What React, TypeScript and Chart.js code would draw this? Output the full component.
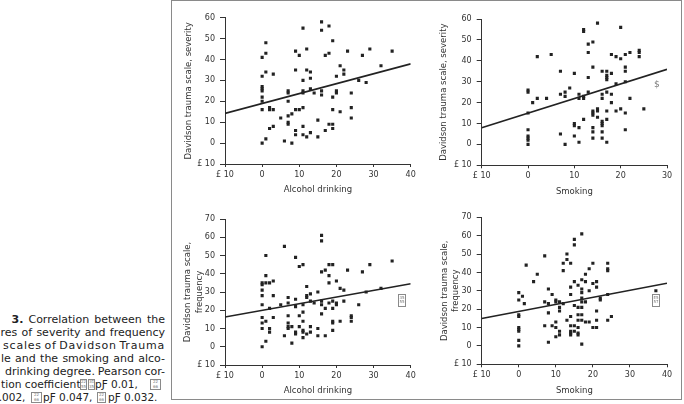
import React, { useEffect, useRef } from 'react';
import { Chart, registerables } from 'chart.js';

Chart.register(...registerables);

// Alcohol drinking vs. Davidson trauma scale, severity
const alcoholSeverityX = [0, 1, 0, 1, 1, 1, 0, 0, 0, 0, 0, 0, 0, 2, 2, 3, 3, 2, 3, 5, 6, 8, 7, 7, 7, 7, 7, 7, 8, 9, 9, 9, 9, 9, 10, 10, 11, 11, 11, 11, 11, 11, 11, 12, 12, 12, 13, 13, 13, 13, 14, 15, 15, 16, 16, 16, 16, 17, 17, 18, 18, 18, 19, 19, 19, 19, 19, 20, 20, 20, 21, 21, 22, 22, 23, 24, 24, 24, 26, 27, 28, 29, 32, 35];
const alcoholSeverityY = [0, 2, 41, 43, 48, 34, 32, 27, 26, 25, 22, 20, 16, 17, 16, 33, 16, 7, 8, 12, 1, 0, 25, 24, 20, 13, 10, 9, 14, 6, 4, 35, 44, 16, 16, 42, 55, 30, 25, 24, 17, 8, 4, 45, 35, 3, 34, 31, 26, 5, 24, 11, 3, 58, 54, 25, 23, 42, 6, 56, 43, 9, 49, 22, 16, 9, 7, 32, 25, 24, 37, 15, 35, 33, 44, 24, 17, 12, 30, 42, 29, 45, 37, 44];
const alcoholSeverityFitX = [-10, 40];
const alcoholSeverityFitY = [14.2, 37.9];

// Smoking vs. Davidson trauma scale, severity
const smokingSeverityX = [0, 0, 0, 0, 0, 0, 0, 0, 1, 2, 2, 4, 5, 7, 7, 7, 8, 8, 8, 9, 10, 10, 10, 10, 11, 11, 11, 11, 12, 12, 12, 12, 12, 13, 13, 13, 13, 14, 14, 14, 14, 14, 14, 14, 14, 15, 15, 15, 15, 16, 16, 16, 16, 16, 16, 16, 16, 17, 17, 17, 17, 17, 17, 17, 17, 18, 18, 18, 18, 19, 19, 19, 20, 20, 20, 21, 21, 21, 21, 21, 21, 22, 22, 24, 24, 24, 25];
const smokingSeverityY = [0, 2, 3, 4, 7, 15, 26, 25, 20, 22, 42, 22, 43, 5, 35, 24, 0, 23, 25, 27, 34, 10, 9, 4, 1, 8, 24, 22, 23, 22, 55, 54, 12, 44, 48, 32, 25, 49, 37, 16, 15, 14, 8, 6, 3, 58, 17, 16, 13, 35, 24, 22, 11, 10, 9, 6, 3, 35, 33, 32, 31, 25, 16, 12, 1, 43, 34, 24, 20, 42, 29, 16, 56, 41, 17, 43, 37, 35, 30, 15, 7, 44, 22, 45, 44, 42, 17];
const smokingSeverityFitX = [-10, 30];
const smokingSeverityFitY = [8.0, 35.9];

// Alcohol drinking vs. Davidson trauma scale, frequency
const alcoholFrequencyX = [0, 0, 0, 0, 0, 0, 0, 0, 0, 1, 1, 1, 1, 1, 2, 2, 2, 2, 3, 3, 3, 5, 6, 6, 7, 7, 7, 7, 7, 7, 8, 8, 9, 9, 9, 9, 9, 10, 10, 10, 11, 11, 11, 11, 11, 11, 11, 12, 12, 12, 12, 13, 13, 13, 13, 14, 15, 15, 15, 16, 16, 16, 16, 16, 16, 17, 17, 17, 18, 18, 18, 18, 19, 19, 19, 19, 19, 19, 20, 20, 20, 21, 21, 22, 22, 23, 24, 24, 24, 26, 27, 28, 29, 32, 35];
const alcoholFrequencyY = [0, 10, 13, 16, 23, 28, 31, 34, 35, 3, 14, 35, 39, 50, 35, 21, 10, 8, 36, 28, 16, 23, 55, 6, 27, 17, 13, 11, 10, 24, 11, 2, 49, 26, 22, 8, 7, 44, 17, 11, 45, 19, 23, 9, 8, 5, 14, 33, 28, 27, 7, 29, 25, 11, 8, 24, 30, 10, 6, 61, 58, 41, 25, 23, 18, 42, 21, 6, 45, 39, 35, 24, 45, 25, 21, 14, 13, 9, 36, 24, 23, 32, 14, 31, 25, 42, 17, 16, 14, 23, 41, 30, 45, 32, 47];
const alcoholFrequencyFitX = [-10, 40];
const alcoholFrequencyFitY = [16.3, 34.5];

// Smoking vs. Davidson trauma scale, frequency
const smokingFrequencyX = [0, 0, 0, 0, 0, 0, 0, 0, 0, 1, 1.5, 2, 4, 5, 7, 7, 7, 8, 8, 8, 8, 9, 9, 10, 10, 10, 10, 10, 11, 11, 11, 11, 11, 12, 12, 12, 13, 13, 13, 14, 14, 14, 14, 14, 14, 14, 14, 15, 15, 15, 15, 15, 15, 16, 16, 16, 16, 16, 16, 16, 17, 17, 17, 17, 17, 17, 17, 17, 17, 17, 18, 18, 18, 18, 19, 19, 19, 20, 20, 20, 21, 21, 21, 21, 21, 22, 22, 24, 24, 24, 24, 24, 25, 37];
const smokingFrequencyY = [0, 3, 8, 9, 10, 16, 17, 25, 29, 27, 23, 44, 35, 39, 49, 24, 11, 31, 23, 18, 2, 28, 11, 25, 24, 13, 10, 5, 24, 21, 19, 8, 6, 23, 41, 45, 50, 47, 14, 45, 32, 28, 16, 11, 8, 7, 6, 58, 55, 35, 22, 11, 8, 33, 21, 17, 14, 10, 7, 6, 61, 36, 31, 29, 26, 24, 21, 17, 14, 1, 39, 35, 24, 13, 42, 30, 13, 45, 34, 10, 35, 32, 19, 14, 10, 26, 25, 45, 42, 41, 14, 28, 16, 30];
const smokingFrequencyFitX = [-10, 40];
const smokingFrequencyFitY = [14.9, 34.1];

// Axis ticks
const severityTicks = [-10, 0, 10, 20, 30, 40, 50, 60];
const severityTickLabels = ['£ 10', '0', '10', '20', '30', '40', '50', '60'];
const frequencyTicks = [-10, 0, 10, 20, 30, 40, 50, 60, 70];
const frequencyTickLabels = ['£ 10', '0', '10', '20', '30', '40', '50', '60', '70'];
const alcoholTicks = [-10, 0, 10, 20, 30, 40];
const alcoholTickLabels = ['£ 10', '0', '10', '20', '30', '40'];
const smokingShortTicks = [-10, 0, 10, 20, 30];
const smokingShortTickLabels = ['£ 10', '0', '10', '20', '30'];
const smokingLongTicks = [-10, 0, 10, 20, 30, 40];
const smokingLongTickLabels = ['£ 10', '0', '10', '20', '30', '40'];

const FONT = '"DejaVu Sans", Verdana, sans-serif';
const INK = '#222';
const TEXT = '#333';

type Panel = {
  left: number; top: number; width: number; height: number;
  padTop: number; padRight: number; yWidth: number; xHeight: number;
  xs: number[]; ys: number[]; fitX: number[]; fitY: number[];
  xTicks: number[]; xLabels: string[]; yTicks: number[]; yLabels: string[];
  xTitle: string; yTitle: string[]; yTitleGaps: number[];
};

const panels: Panel[] = [
  {
    left: 173, top: 1, width: 247, height: 199,
    padTop: 16.7, padRight: 9.3, yWidth: 52, xHeight: 36,
    xs: alcoholSeverityX, ys: alcoholSeverityY, fitX: alcoholSeverityFitX, fitY: alcoholSeverityFitY,
    xTicks: alcoholTicks, xLabels: alcoholTickLabels, yTicks: severityTicks, yLabels: severityTickLabels,
    xTitle: 'Alcohol drinking', yTitle: ['Davidson trauma scale, severity'], yTitleGaps: [36.7],
  },
  {
    left: 420, top: 1, width: 260, height: 199,
    padTop: 18, padRight: 13, yWidth: 61.7, xHeight: 34.7,
    xs: smokingSeverityX, ys: smokingSeverityY, fitX: smokingSeverityFitX, fitY: smokingSeverityFitY,
    xTicks: smokingShortTicks, xLabels: smokingShortTickLabels, yTicks: severityTicks, yLabels: severityTickLabels,
    xTitle: 'Smoking', yTitle: ['Davidson trauma scale, severity'], yTitleGaps: [37.7],
  },
  {
    left: 173, top: 200, width: 247, height: 198,
    padTop: 19, padRight: 9.3, yWidth: 52, xHeight: 33,
    xs: alcoholFrequencyX, ys: alcoholFrequencyY, fitX: alcoholFrequencyFitX, fitY: alcoholFrequencyFitY,
    xTicks: alcoholTicks, xLabels: alcoholTickLabels, yTicks: frequencyTicks, yLabels: frequencyTickLabels,
    xTitle: 'Alcohol drinking', yTitle: ['Davidson trauma scale,', 'frequency'], yTitleGaps: [37.7, 25.7],
  },
  {
    left: 420, top: 200, width: 260, height: 198,
    padTop: 17.3, padRight: 13, yWidth: 61.7, xHeight: 33.7,
    xs: smokingFrequencyX, ys: smokingFrequencyY, fitX: smokingFrequencyFitX, fitY: smokingFrequencyFitY,
    xTicks: smokingLongTicks, xLabels: smokingLongTickLabels, yTicks: frequencyTicks, yLabels: frequencyTickLabels,
    xTitle: 'Smoking', yTitle: ['Davidson trauma scale,', 'frequency'], yTitleGaps: [36.7, 25.7],
  },
];

function titlesPlugin(p: Panel) {
  return {
    id: 'axisTitles',
    afterDraw(chart: any) {
      const { ctx, chartArea: a } = chart;
      ctx.save();
      ctx.fillStyle = TEXT;
      ctx.font = `8.5px ${FONT}`;
      ctx.textAlign = 'center';
      ctx.textBaseline = 'middle';
      ctx.fillText(p.xTitle, (a.left + a.right) / 2, a.bottom + 26);
      const cy = (a.top + a.bottom) / 2;
      p.yTitle.forEach((line, i) => {
        ctx.save();
        ctx.translate(a.left - p.yTitleGaps[i], cy);
        ctx.rotate(-Math.PI / 2);
        ctx.fillText(line, 0, 0);
        ctx.restore();
      });
      ctx.restore();
    },
  };
}

function PanelChart({ p }: { p: Panel }) {
  const ref = useRef<HTMLCanvasElement | null>(null);
  useEffect(() => {
    if (!ref.current) return;
    const points = p.xs.map((x, i) => ({ x, y: p.ys[i] }));
    const fit = p.fitX.map((x, i) => ({ x, y: p.fitY[i] }));
    const tickFont = { family: FONT, size: 8 };
    const chart = new Chart(ref.current, {
      type: 'scatter',
      data: {
        datasets: [
          {
            type: 'scatter',
            data: points,
            pointStyle: 'rect',
            pointRadius: 2.2,
            pointBorderWidth: 0,
            backgroundColor: INK,
            pointBackgroundColor: INK,
          } as any,
          {
            type: 'line',
            data: fit,
            borderColor: INK,
            borderWidth: 1.6,
            pointRadius: 0,
            fill: false,
            showLine: true,
          } as any,
        ],
      },
      options: {
        responsive: false,
        animation: false,
        events: [],
        layout: { padding: { left: 0, top: p.padTop, right: p.padRight, bottom: 0 } },
        plugins: { legend: { display: false }, tooltip: { enabled: false } },
        scales: {
          x: {
            type: 'linear',
            min: p.xTicks[0],
            max: p.xTicks[p.xTicks.length - 1],
            afterFit: (s: any) => { s.height = p.xHeight; },
            afterBuildTicks: (s: any) => { s.ticks = p.xTicks.map((value) => ({ value })); },
            ticks: {
              font: tickFont, color: TEXT, padding: 3, maxRotation: 0, autoSkip: false,
              callback: (v: any) => p.xLabels[p.xTicks.indexOf(Number(v))],
            },
            grid: { display: true, drawOnChartArea: false, drawTicks: true, tickLength: 3, color: TEXT },
            border: { display: true, color: TEXT, width: 1 },
          },
          y: {
            type: 'linear',
            min: p.yTicks[0],
            max: p.yTicks[p.yTicks.length - 1],
            afterFit: (s: any) => { s.width = p.yWidth; },
            afterBuildTicks: (s: any) => { s.ticks = p.yTicks.map((value) => ({ value })); },
            ticks: {
              font: tickFont, color: TEXT, padding: 5, autoSkip: false,
              callback: (v: any) => p.yLabels[p.yTicks.indexOf(Number(v))],
            },
            grid: { display: true, drawOnChartArea: false, drawTicks: true, tickLength: 5, color: TEXT },
            border: { display: true, color: TEXT, width: 1 },
          },
        },
      } as any,
      plugins: [titlesPlugin(p)],
    });
    return () => chart.destroy();
  }, [p]);
  return (
    <canvas
      ref={ref}
      width={p.width}
      height={p.height}
      style={{ position: 'absolute', left: p.left, top: p.top, width: p.width, height: p.height }}
    />
  );
}

function Tofu({ left, top, width = 8, height = 11, code = ['22', '64'] }: { left: number; top: number; width?: number; height?: number; code?: string[] }) {
  return (
    <div
      style={{
        position: 'absolute', left, top, width, height, boxSizing: 'border-box',
        border: '1px solid #8a8a8a', fontSize: 4, lineHeight: '4.6px', color: '#777',
        textAlign: 'center', fontFamily: FONT, overflow: 'hidden', paddingTop: 0.5,
      }}
    >
      {code.map((c, i) => <div key={i}>{c}</div>)}
    </div>
  );
}

const CAPTION_SIZE = 11;

const captionStyle: React.CSSProperties = {
  position: 'absolute', display: 'flex', justifyContent: 'space-between',
  fontFamily: FONT, fontSize: CAPTION_SIZE, lineHeight: '13px', color: '#222', whiteSpace: 'nowrap', height: 13,
};

function CaptionLine({ left, top, words, spacing = 0 }: { left: number; top: number; words: React.ReactNode[]; spacing?: number }) {
  return (
    <div style={{ ...captionStyle, left, top, width: 165 - left, letterSpacing: spacing }}>
      {words.map((w, i) => <span key={i}>{w}</span>)}
    </div>
  );
}

const numStyle: React.CSSProperties = {
  position: 'absolute', fontFamily: FONT, fontSize: 10.5, lineHeight: '13px', color: '#222', whiteSpace: 'nowrap',
};

export default function App() {
  const lineTop = (c: number) => c - 6.5;
  const rows = [319, 332, 345, 358, 371, 384, 397];
  return (
    <div style={{ position: 'fixed', left: 0, top: 0, width: 684, height: 404, background: '#fff', overflow: 'hidden' }}>
      <div style={{ position: 'absolute', left: 171, top: 0, width: 511, height: 400, border: '1px solid #8a8a8a', boxSizing: 'border-box' }} />
      {panels.map((p, i) => <PanelChart key={i} p={p} />)}

      <div style={{ position: 'absolute', left: 654, top: 79, fontFamily: FONT, fontSize: 9, color: '#777' }}>$</div>
      <Tofu left={398} top={294} width={8} height={13} code={['35', '55']} />
      <Tofu left={652} top={294} width={8} height={13} code={['E5', '57']} />

      <CaptionLine left={11.5} top={lineTop(rows[0])} words={[<b key="b">3.</b>, 'Correlation', 'between', 'the']} />
      <CaptionLine left={0.5} top={lineTop(rows[1])} words={['res', 'of', 'severity', 'and', 'frequency']} />
      <CaptionLine left={3} top={lineTop(rows[2])} spacing={0.8} words={['scales', 'of', 'Davidson', 'Trauma']} />
      <CaptionLine left={1} top={lineTop(rows[3])} words={['le', 'and', 'the', 'smoking', 'and', 'alco-']} />
      <CaptionLine left={5} top={lineTop(rows[4])} words={['drinking', 'degree.', 'Pearson', 'cor-']} />

      <div style={{ ...numStyle, left: 1, top: lineTop(rows[5]), fontSize: 10.7 }}>tion coefficient</div>
      <Tofu left={80} top={lineTop(rows[5]) + 1} width={7} code={['22', '55']} />
      <Tofu left={88} top={lineTop(rows[5]) + 1} width={7} code={['3D', '35']} />
      <div style={{ ...numStyle, left: 95, top: lineTop(rows[5]) }}>pƑ 0.01,</div>
      <Tofu left={150} top={lineTop(rows[5]) + 1} width={11} code={['22', '66']} />

      <div style={{ ...numStyle, left: -8, top: lineTop(rows[6]) }}>0.002,</div>
      <Tofu left={31} top={lineTop(rows[6]) + 1} width={11} code={['22', '66']} />
      <div style={{ ...numStyle, left: 43, top: lineTop(rows[6]) }}>pƑ 0.047,</div>
      <Tofu left={97} top={lineTop(rows[6]) + 1} width={9} code={['22', '66']} />
      <div style={{ ...numStyle, left: 108, top: lineTop(rows[6]) }}>pƑ 0.032.</div>
    </div>
  );
}
